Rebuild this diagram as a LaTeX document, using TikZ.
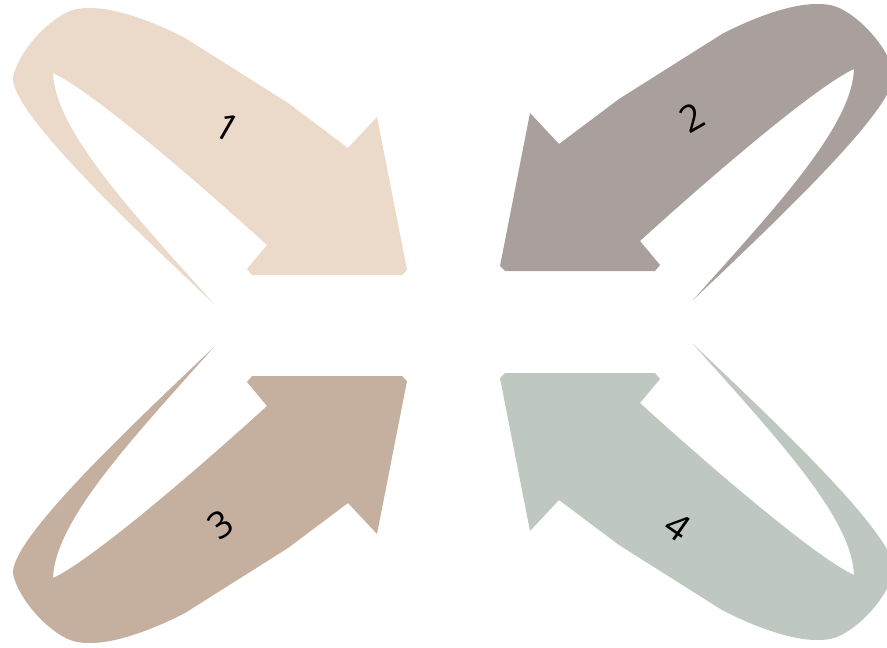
\documentclass[tikz,border=0pt]{standalone}
\usepackage{fontspec}
\setmainfont{Open Sans}
\usetikzlibrary{positioning}

\definecolor{sandarrow}{HTML}{EBD9CA}
\definecolor{greyarrow}{HTML}{A9A09D}
\definecolor{taupearrow}{HTML}{C5B0A0}
\definecolor{sagearrow}{HTML}{BEC8C0}

% outline of one curved arrow (pixel units, y down)
\newcommand{\curvedarrow}{%
  (214,304) .. controls (120,215) and (10,110) .. (13,77)
  .. controls (18,55) and (40,28) .. (62,15)
  .. controls (72,9) and (80,8) .. (90,8)
  .. controls (120,8) and (160,25) .. (185,38)
  -- (288,103) -- (348,148) -- (377,117) -- (407,270) -- (402,275)
  -- (252,275) -- (247,269) -- (267,245)
  .. controls (190,175) and (90,90) .. (53,73)
  .. controls (55,130) and (130,210) .. (214,304) -- cycle}

\begin{document}
\begin{tikzpicture}[x=1pt, y=-1pt,
    arrowpart/.style={fill=#1, draw=none},
    numlabel/.style={font=\fontsize{37}{44}\selectfont, text=black, inner sep=0pt}]
  \clip (0,0) rectangle (887,648);
  \fill[white] (0,0) rectangle (887,648);

  % the four arrows, mirrored copies of one outline
  \fill[arrowpart=sandarrow] \curvedarrow;
  \begin{scope}[shift={(907,-4)}, xscale=-1]
    \fill[arrowpart=greyarrow] \curvedarrow;
  \end{scope}
  \begin{scope}[shift={(0,651)}, yscale=-1]
    \fill[arrowpart=taupearrow] \curvedarrow;
  \end{scope}
  \begin{scope}[shift={(907,648)}, xscale=-1, yscale=-1]
    \fill[arrowpart=sagearrow] \curvedarrow;
  \end{scope}

  % numbers
  \node[numlabel, rotate=-30] (lbl1) at (227,127) {1};
  \node[numlabel, rotate=30] (lbl2) at (692,118) {2};
  \node[numlabel, rotate=35] (lbl3) at (221,525) {3};
  \node[numlabel, rotate=-35] (lbl4) at (678,527) {4};
\end{tikzpicture}
\end{document}
